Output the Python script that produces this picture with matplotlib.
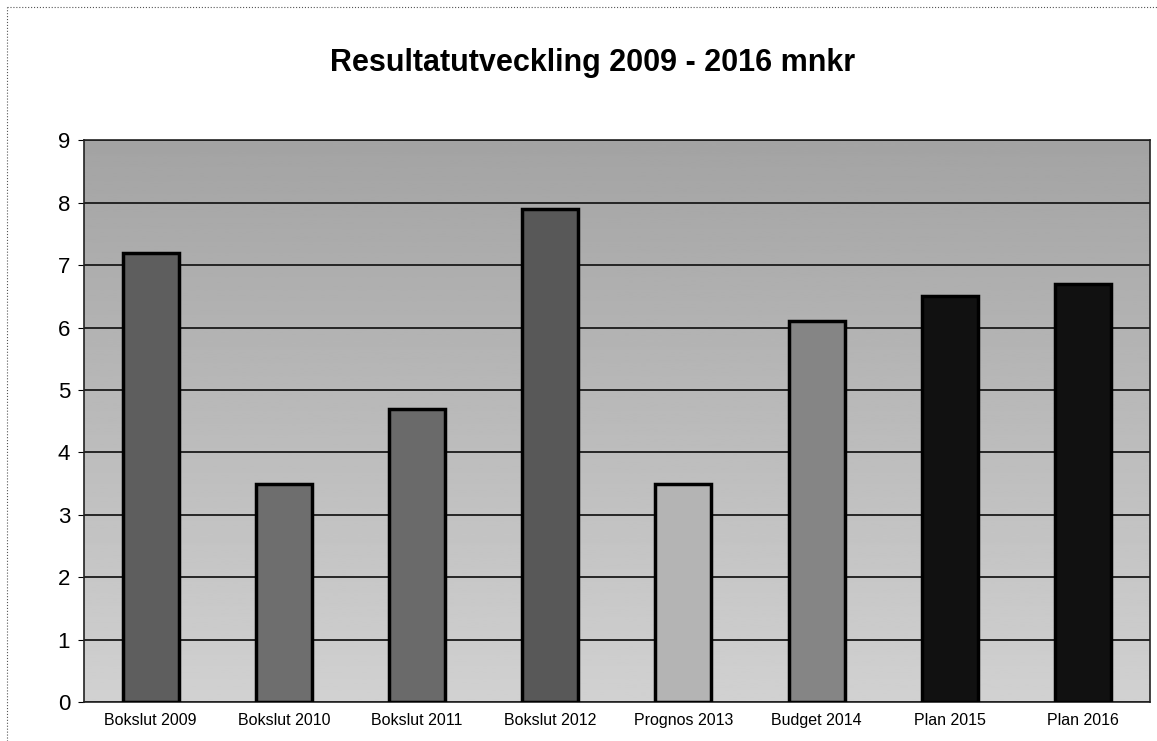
import matplotlib.pyplot as plt
import numpy as np

categories = ["Bokslut 2009", "Bokslut 2010", "Bokslut 2011", "Bokslut 2012",
              "Prognos 2013", "Budget 2014", "Plan 2015", "Plan 2016"]
values = [7.2, 3.5, 4.7, 7.9, 3.5, 6.1, 6.5, 6.7]
bar_colors = ["#5e5e5e", "#6e6e6e", "#6a6a6a", "#585858",
              "#b4b4b4", "#858585", "#111111", "#111111"]
y_ticks = list(range(0, 10))

plt.rcParams['font.family'] = ['Liberation Sans', 'DejaVu Sans']

fig = plt.figure(figsize=(11.57, 7.41), dpi=100)
ax = fig.add_axes([0.0726, 0.0526, 0.921, 0.758])

# grey gradient background, darker at top, lighter at bottom
g = np.linspace(0.64, 0.82, 256).reshape(-1, 1)
ax.imshow(g, cmap='gray', vmin=0, vmax=1, aspect='auto',
          extent=[-0.5, len(categories) - 0.5, 0, 9], origin='upper', zorder=0)

x = np.arange(len(categories))
ax.bar(x, values, width=0.42, color=bar_colors, edgecolor='black',
       linewidth=2.5, zorder=3)

ax.set_xlim(-0.5, len(categories) - 0.5)
ax.set_ylim(0, 9)
ax.set_yticks(y_ticks)
ax.yaxis.grid(True, color='#1a1a1a', linewidth=1.3, zorder=1)
ax.set_axisbelow(True)
ax.set_xticks(x)
ax.set_xticklabels(categories, fontsize=11.5)
ax.tick_params(axis='y', labelsize=16, length=4, pad=6)
ax.tick_params(axis='x', length=0, pad=8)
for s in ax.spines.values():
    s.set_color('#222222')
    s.set_linewidth(1.2)

fig.text(0.512, 0.915, "Resultatutveckling 2009 - 2016 mnkr",
         ha='center', va='center', fontsize=22, fontweight='bold')

# scan frame on left and top
fig.add_artist(plt.Line2D([0.006, 0.006], [0, 0.99], color='#555555', lw=0.8, ls=':'))
fig.add_artist(plt.Line2D([0.006, 1.0], [0.99, 0.99], color='#555555', lw=0.8, ls=':'))

plt.savefig('out.png', dpi=100)
